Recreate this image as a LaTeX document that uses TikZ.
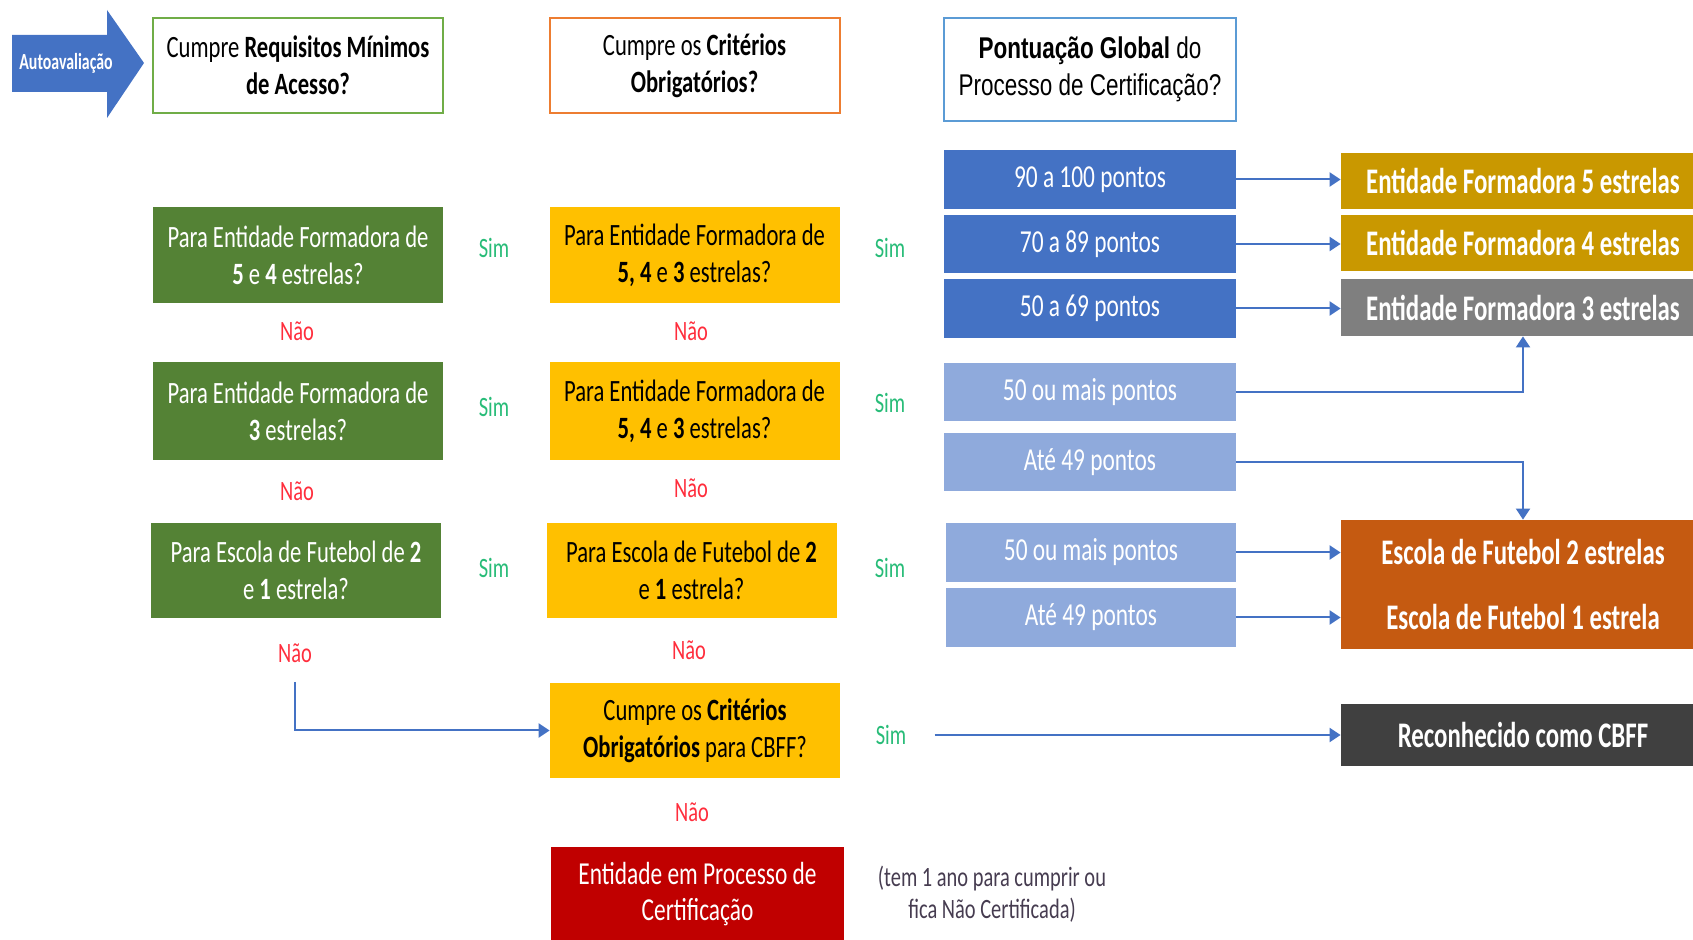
\documentclass[tikz,border=0pt]{standalone}
\usepackage{fontspec}
\newfontfamily\cf{Carlito}[FakeStretch=0.73]
\newfontfamily\cfb{Carlito}[FakeStretch=0.69]
\newfontfamily\af{Liberation Sans}[FakeStretch=0.75]
\usetikzlibrary{arrows.meta}
\definecolor{cgreen}{HTML}{548235}
\definecolor{cyellow}{HTML}{FFC000}
\definecolor{cblue}{HTML}{4472C4}
\definecolor{clblue}{HTML}{8FAADC}
\definecolor{cgold}{HTML}{C99800}
\definecolor{cgray}{HTML}{7F7F7F}
\definecolor{corange}{HTML}{C55A11}
\definecolor{cdark}{HTML}{404040}
\definecolor{cred}{HTML}{C00000}
\definecolor{bgreen}{HTML}{70AD47}
\definecolor{borange}{HTML}{ED7D31}
\definecolor{bblue}{HTML}{5B9BD5}
\definecolor{simc}{RGB}{40,188,120}
\definecolor{naoc}{RGB}{255,45,60}
\definecolor{notec}{RGB}{70,60,80}
\tikzset{
  base/.style={inner sep=0pt, align=center, font=\cf\fontsize{15.5}{18.4}\selectfont},
  qbox/.style={base, draw, line width=1pt, fill=white, minimum width=145pt, minimum height=47.5pt},
  gbox/.style={base, fill=cgreen, text=white, minimum width=145pt, minimum height=48pt},
  ybox/.style={base, fill=cyellow, text=black, minimum width=145pt, minimum height=48pt},
  ptbox/.style={base, fill=cblue, text=white, minimum width=146pt, minimum height=29.5pt, font=\cf\fontsize{16}{18}\selectfont},
  lbox/.style={ptbox, fill=clblue},
  rbox/.style={base, text=white, minimum width=182pt, minimum height=28pt, font=\cfb\fontsize{18}{20}\selectfont\bfseries},
  sim/.style={inner sep=0pt, text=simc, font=\cf\fontsize{14}{16}\selectfont},
  nao/.style={inner sep=0pt, text=naoc, font=\cf\fontsize{14}{16}\selectfont},
  arr/.style={draw=cblue, line width=1pt, -{Triangle[length=5.5pt,width=7pt]}},
}
\begin{document}
\begin{tikzpicture}[x=0.5pt,y=-0.5pt]
\useasboundingbox (0,0) rectangle (1693,940);
\clip (0,0) rectangle (1693,940);

% Autoavaliacao arrow
\fill[cblue] (12,35) -- (107,35) -- (107,10) -- (144,63) -- (107,118) -- (107,92) -- (12,92) -- cycle;
\node[inner sep=0pt, text=white, font=\cfb\fontsize{11.5}{13}\selectfont\bfseries] (auto) at (66,63) {Autoavaliação};

% header boxes
\node[qbox, draw=bgreen] (q1) at (298,65.5) {Cumpre \textbf{Requisitos Mínimos}\\\textbf{de Acesso?}};
\node[qbox, draw=borange] (q2) at (694.5,65.5) {Cumpre os \textbf{Critérios}\\\textbf{Obrigatórios?}};
\node[qbox, draw=bblue, minimum width=146pt, minimum height=51.5pt, font=\af\fontsize{15}{18.5}\selectfont] (q3) at (1090,69.5) {\textbf{Pontuação Global} do\\Processo de Certificação?};

% green column
\node[gbox] (g1) at (298,255) {Para Entidade Formadora de\\\textbf{5} e \textbf{4} estrelas?};
\node[gbox, minimum height=49pt] (g2) at (298,411) {Para Entidade Formadora de\\\textbf{3} estrelas?};
\node[gbox, minimum height=47.5pt] (g3) at (296,570.5) {Para Escola de Futebol de \textbf{2}\\e \textbf{1} estrela?};

% yellow column
\node[ybox] (y1) at (694.5,255) {Para Entidade Formadora de\\\textbf{5, 4} e \textbf{3} estrelas?};
\node[ybox, minimum height=49pt] (y2) at (694.5,411) {Para Entidade Formadora de\\\textbf{5, 4} e \textbf{3} estrelas?};
\node[ybox, minimum height=47.5pt] (y3) at (691.5,570.5) {Para Escola de Futebol de \textbf{2}\\e \textbf{1} estrela?};
\node[ybox, minimum height=47.5pt] (y4) at (695,730.5) {Cumpre os \textbf{Critérios}\\\textbf{Obrigatórios} para CBFF?};
\node[base, fill=cred, text=white, minimum width=146.5pt, minimum height=47pt, font=\cf\fontsize{16}{18}\selectfont] (red) at (697.5,894) {Entidade em Processo de\\Certificação};

% points column
\node[ptbox] (b1) at (1090,179.5) {90 a 100 pontos};
\node[ptbox, minimum height=29pt] (b2) at (1090,244) {70 a 89 pontos};
\node[ptbox] (b3) at (1090,308.5) {50 a 69 pontos};
\node[lbox, minimum height=29pt] (l1) at (1090,392) {50 ou mais pontos};
\node[lbox, minimum height=29pt] (l2) at (1090,462) {Até 49 pontos};
\node[lbox, minimum width=145pt] (l3) at (1091,552.5) {50 ou mais pontos};
\node[lbox, minimum width=145pt] (l4) at (1091,617.5) {Até 49 pontos};

% results column
\node[rbox, fill=cgold] (r5) at (1523,181) {Entidade Formadora 5 estrelas};
\node[rbox, fill=cgold] (r4) at (1523,243) {Entidade Formadora 4 estrelas};
\node[rbox, fill=cgray, minimum height=28.5pt] (r3) at (1523,307.5) {Entidade Formadora 3 estrelas};
\node[rbox, fill=corange, minimum height=64.5pt, font=\cfb\fontsize{18}{32.5}\selectfont\bfseries] (esc) at (1523,584.5) {Escola de Futebol 2 estrelas\\Escola de Futebol 1 estrela};
\node[rbox, fill=cdark, minimum height=31pt] (cbff) at (1523,735) {Reconhecido como CBFF};

% Sim / Nao labels
\node[sim] (s11) at (494,248) {Sim};
\node[sim] (s12) at (494,407) {Sim};
\node[sim] (s13) at (494,568) {Sim};
\node[sim] (s21) at (890,248) {Sim};
\node[sim] (s22) at (890,403) {Sim};
\node[sim] (s23) at (890,568) {Sim};
\node[sim] (s24) at (891,735) {Sim};
\node[nao] (n11) at (297,331) {Não};
\node[nao] (n12) at (297,491) {Não};
\node[nao] (n13) at (295,653) {Não};
\node[nao] (n21) at (691,331) {Não};
\node[nao] (n22) at (691,488) {Não};
\node[nao] (n23) at (689,650) {Não};
\node[nao] (n24) at (692,812) {Não};

% note
\node[inner sep=0pt, align=center, text=notec, font=\cf\fontsize{14}{16}\selectfont] (note) at (992,894) {(tem 1 ano para cumprir ou\\fica Não Certificada)};

% connectors
\coordinate (c1) at (295,682);
\draw[arr] (c1) |- (y4.west);
\draw[arr] ([xshift=14pt]s24.east) -- (cbff.west);
\draw[arr] (b1.east) -- (b1.east -| r5.west);
\draw[arr] (b2.east) -- (b2.east -| r4.west);
\draw[arr] (b3.east) -- (b3.east -| r3.west);
\draw[arr] (l1.east) -| (r3.south);
\draw[arr] (l2.east) -| (esc.north);
\draw[arr] (l3.east) -- (l3.east -| esc.west);
\draw[arr] (l4.east) -- (l4.east -| esc.west);
\end{tikzpicture}
\end{document}
